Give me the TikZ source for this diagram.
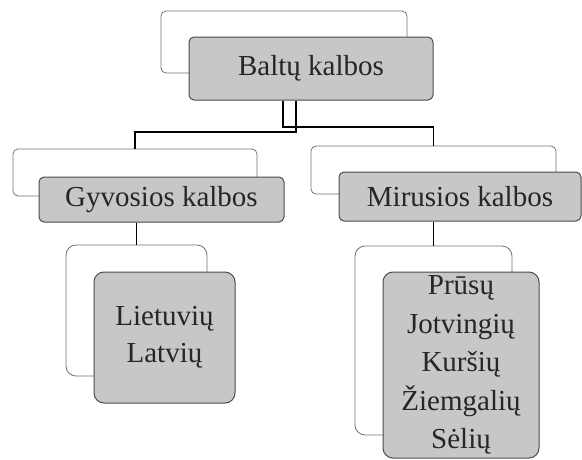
\documentclass[tikz,border=0pt]{standalone}
\usepackage{fontspec}
\setmainfont{Liberation Serif}
\begin{document}
\begin{tikzpicture}[x=1pt,y=-1pt,
  back/.style={draw=black!55,line width=0.8pt,rounded corners=5pt,fill=white,inner sep=0pt},
  front/.style={draw=black!70,line width=1pt,rounded corners=5pt,fill=black!22,inner sep=0pt,
    font=\fontsize{29}{37}\selectfont,text=black!85,align=center},
  conn/.style={draw=black,line width=1.6pt}]
\useasboundingbox (0,0) rectangle (582,459);
% top
\node[back,minimum width=246pt,minimum height=62pt] (tb) at (284,42) {};
\node[front,minimum width=244pt,minimum height=63pt] (tf) at (311,68.5) {Baltų kalbos};
% level 2
\node[back,minimum width=244pt,minimum height=47pt] (lb) at (135,172.5) {};
\node[front,minimum width=245pt,minimum height=45pt] (lf) at (161.5,199.5) {Gyvosios kalbos};
\node[back,minimum width=245pt,minimum height=48pt] (rb) at (433.5,170) {};
\node[front,minimum width=242pt,minimum height=49pt] (rf) at (460,196.5) {Mirusios kalbos};
% level 3
\node[back,rounded corners=10pt,minimum width=141pt,minimum height=131pt] (llb) at (136.5,310.5) {};
\node[front,rounded corners=10pt,minimum width=141pt,minimum height=131pt] (llf) at (164.5,337.5) {Lietuvių\\Latvių};
\node[back,rounded corners=10pt,minimum width=157pt,minimum height=189pt] (rrb) at (433.5,340.5) {};
\node[front,rounded corners=10pt,minimum width=156pt,minimum height=186pt,font=\fontsize{29}{38.5}\selectfont] (rrf) at (461,365) {Prūsų\\Jotvingių\\Kuršių\\Žiemgalių\\Sėlių};
% connectors
\coordinate (a1) at (283,127);
\coordinate (b1) at (296,132);
\draw[conn] (tf.south -| a1) -- (a1) -- (a1 -| rb.north) -- (rb.north);
\draw[conn] (tf.south -| b1) -- (b1) -- (b1 -| lb.north) -- (lb.north);
\draw[conn] (lf.south -| llb.north) -- (llb.north);
\draw[conn] (rf.south -| rrb.north) -- (rrb.north);
\end{tikzpicture}
\end{document}
